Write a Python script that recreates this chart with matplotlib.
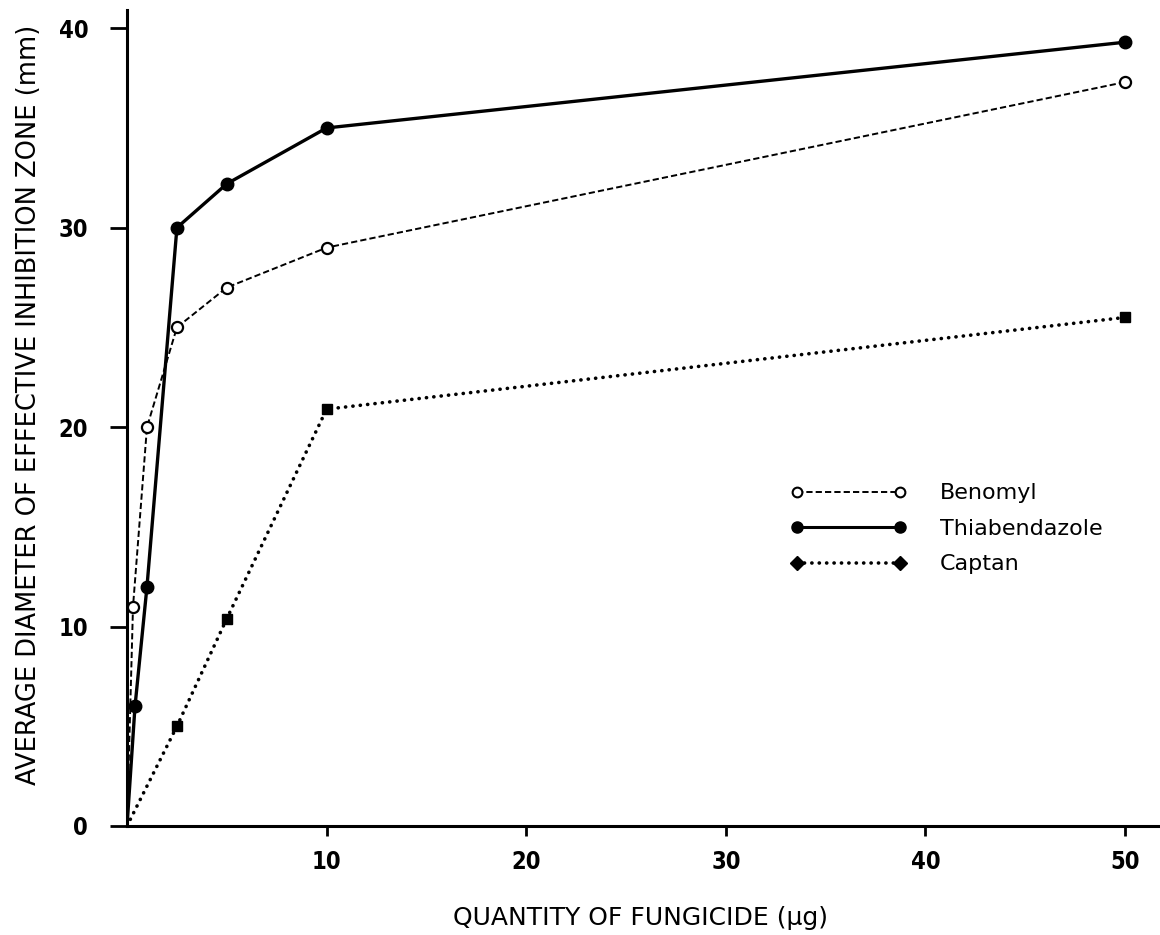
import matplotlib
matplotlib.use("Agg")
import matplotlib.pyplot as plt
from matplotlib.lines import Line2D

# values
benomyl_x = [0, 0.3, 1, 2.5, 5, 10, 50]
benomyl_y = [0, 11, 20, 25, 27, 29, 37.3]
thiab_x = [0, 0.4, 1, 2.5, 5, 10, 50]
thiab_y = [0, 6, 12, 30, 32.2, 35, 39.3]
captan_x = [0, 2.5, 5, 10, 50]
captan_y = [0, 5, 10.4, 20.9, 25.5]

x_ticks = [10, 20, 30, 40, 50]
y_ticks = [0, 10, 20, 30, 40]

plt.rcParams["font.family"] = "DejaVu Sans"

DASH = (0, (3.2, 1.6))
DOTS = (0, (0.05, 2.0))

fig = plt.figure(figsize=(11.6, 9.35), dpi=100)
ax = fig.add_axes([0.1095, 0.1166, 0.8905, 0.8724])

ax.plot(benomyl_x, benomyl_y, color="black", lw=1.4, ls=DASH,
        marker="o", ms=8, mfc="white", mec="black", mew=1.6, markevery=list(range(1, 7)))
ax.plot(thiab_x, thiab_y, color="black", lw=2.4, ls="-",
        marker="o", ms=9, mfc="black", mec="black", markevery=list(range(1, 7)))
ax.plot(captan_x, captan_y, color="black", lw=2.6, ls=DOTS, dash_capstyle="round",
        marker="s", ms=7, mfc="black", mec="black", markevery=list(range(1, 5)))

ax.set_xlim(0, 51.75)
ax.set_ylim(0, 40.9)
ax.set_xticks(x_ticks)
ax.set_yticks(y_ticks)
for s in ["top", "right"]:
    ax.spines[s].set_visible(False)
for s in ["left", "bottom"]:
    ax.spines[s].set_linewidth(2.2)
ax.tick_params(axis="y", direction="out", length=12, width=2, pad=16, labelsize=17)
ax.tick_params(axis="x", direction="out", length=7, width=2, pad=10, labelsize=17)
for lab in ax.get_xticklabels() + ax.get_yticklabels():
    lab.set_fontweight("bold")
    lab.set_fontstretch("condensed")

ax.set_ylabel("AVERAGE DIAMETER OF EFFECTIVE INHIBITION ZONE (mm)", fontsize=18.5)
ax.yaxis.set_label_coords(-0.082, 0.516)
ax.set_xlabel("QUANTITY OF FUNGICIDE (\u03bcg)", fontsize=18)
ax.xaxis.set_label_coords(0.497, -0.098)

handles = [
    Line2D([0, 1], [0, 0], color="black", lw=1.4, ls=DASH, marker="o", ms=7,
           mfc="white", mec="black", mew=1.5),
    Line2D([0, 1], [0, 0], color="black", lw=2.2, ls="-", marker="o", ms=8, mfc="black"),
    Line2D([0, 1], [0, 0], color="black", lw=2.6, ls=DOTS, dash_capstyle="round",
           marker="D", ms=7, mfc="black"),
]
ax.legend(handles, ["Benomyl", "Thiabendazole", "Captan"], loc="upper left",
          bbox_to_anchor=(0.672, 0.495), bbox_transform=fig.transFigure,
          frameon=False, numpoints=2, handlelength=5.2, handletextpad=1.5,
          labelspacing=0.7, borderpad=0, prop={"size": 16, "weight": "medium"})

fig.savefig("out.png", dpi=100)
